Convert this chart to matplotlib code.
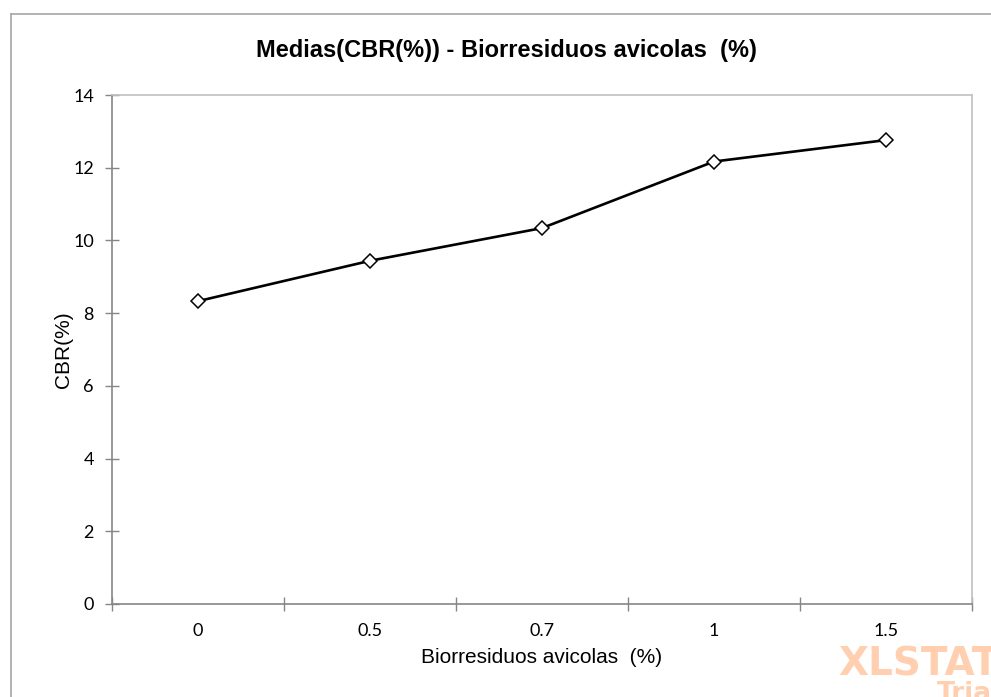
import matplotlib
matplotlib.use("Agg")
import matplotlib.pyplot as plt
from matplotlib.lines import Line2D

categories = ["0", "0.5", "0.7", "1", "1.5"]
cbr_means = [8.33, 9.44, 10.34, 12.17, 12.76]
y_ticks = [0, 2, 4, 6, 8, 10, 12, 14]

fig = plt.figure(figsize=(9.91, 6.97), dpi=100)
ax = fig.add_axes([112 / 991, 1 - 604 / 697, 860 / 991, 509 / 697])

x = list(range(len(categories)))
ax.plot(x, cbr_means, color="black", linewidth=1.9, marker="D", markersize=7.5,
        markerfacecolor="white", markeredgecolor="black", markeredgewidth=1.1,
        zorder=3)

ax.set_xlim(-0.5, len(categories) - 0.5)
ax.set_ylim(0, 14)
ax.set_yticks(y_ticks)
ax.set_yticklabels([str(v) for v in y_ticks], family="Lato", fontsize=13)

# category labels centred, tick marks on the category boundaries
ax.set_xticks([i - 0.5 for i in range(len(categories) + 1)])
ax.set_xticklabels([])
ax.set_xticks(x, minor=True)
ax.set_xticklabels(categories, minor=True, family="Lato", fontsize=13)
ax.tick_params(axis="x", which="minor", length=0, pad=14)
ax.tick_params(axis="x", which="major", direction="inout", length=10, width=1,
               color="#868686")
ax.tick_params(axis="y", direction="inout", length=10, width=1, color="#868686",
               pad=8)

for side in ("left", "bottom"):
    ax.spines[side].set_color("#868686")
    ax.spines[side].set_linewidth(1.2)
for side in ("top", "right"):
    ax.spines[side].set_color("#c0c0c0")
    ax.spines[side].set_linewidth(1.2)

ax.set_ylabel("CBR(%)", family="Liberation Sans", fontsize=15, labelpad=0)
ax.set_xlabel("Biorresiduos avicolas  (%)", family="Liberation Sans",
              fontsize=15, labelpad=6)
fig.text(506 / 991, 1 - 50 / 697, "Medias(CBR(%)) - Biorresiduos avicolas  (%)",
         family="Liberation Sans", fontweight="bold", fontsize=17,
         ha="center", va="center")

# chart-area frame
fig.add_artist(Line2D([10.5 / 991, 10.5 / 991], [0, 1 - 14 / 697],
                      transform=fig.transFigure, color="#a6a6a6", linewidth=1.2))
fig.add_artist(Line2D([10.5 / 991, 1], [1 - 14 / 697, 1 - 14 / 697],
                      transform=fig.transFigure, color="#a6a6a6", linewidth=1.2))

# trial watermark
fig.text(838 / 991, 1 - 664 / 697, "XLSTAT", family="DejaVu Sans",
         fontweight="bold", fontsize=28, color="#ffcfb0", ha="left", va="center")
fig.text(937 / 991, 1 - 694 / 697, "Tria", family="DejaVu Sans",
         fontweight="bold", fontsize=19, color="#ffcfb0", ha="left", va="center")

fig.savefig("out.png", dpi=100)
